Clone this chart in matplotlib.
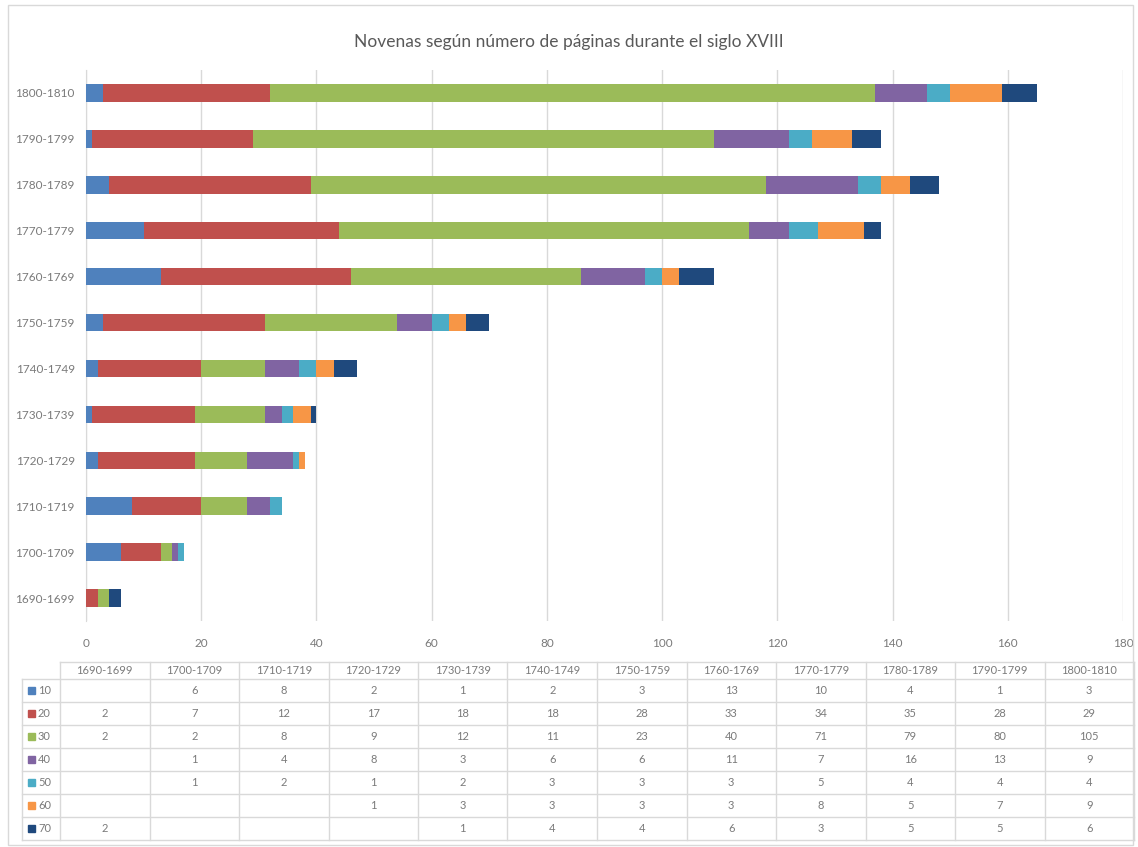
import matplotlib.pyplot as plt
from matplotlib.patches import Rectangle
import numpy as np

plt.rcParams['font.family'] = ['Lato', 'DejaVu Sans']

# décadas y número de novenas por tamaño (páginas)
decadas = ['1690-1699', '1700-1709', '1710-1719', '1720-1729', '1730-1739', '1740-1749',
           '1750-1759', '1760-1769', '1770-1779', '1780-1789', '1790-1799', '1800-1810']
paginas = ['10', '20', '30', '40', '50', '60', '70']

p10 = [0, 6, 8, 2, 1, 2, 3, 13, 10, 4, 1, 3]
p20 = [2, 7, 12, 17, 18, 18, 28, 33, 34, 35, 28, 29]
p30 = [2, 2, 8, 9, 12, 11, 23, 40, 71, 79, 80, 105]
p40 = [0, 1, 4, 8, 3, 6, 6, 11, 7, 16, 13, 9]
p50 = [0, 1, 2, 1, 2, 3, 3, 3, 5, 4, 4, 4]
p60 = [0, 0, 0, 1, 3, 3, 3, 3, 8, 5, 7, 9]
p70 = [2, 0, 0, 0, 1, 4, 4, 6, 3, 5, 5, 6]

series = [p10, p20, p30, p40, p50, p60, p70]
colores = ['#4F81BD', '#C0504D', '#9BBB59', '#8064A2', '#4BACC6', '#F79646', '#1F497D']

gris = '#595959'
gris_claro = '#7A7A7A'
linea = '#D9D9D9'

fig = plt.figure(figsize=(11.38, 8.47), dpi=100)
W, H = 1138, 847

def fx(px):
    return px / W

def fy(py):
    return 1 - py / H

# borde del gráfico
fig.patches.append(Rectangle((fx(8), fy(845)), fx(1125), 840 / H, transform=fig.transFigure,
                             fill=False, edgecolor=linea, linewidth=1))

fig.text(0.5, fy(42), 'Novenas según número de páginas durante el siglo XVIII',
         ha='center', va='center', fontsize=12.5, color=gris)

ax = fig.add_axes([fx(86), fy(621), fx(1123 - 86), (621 - 70) / H])
y = np.arange(len(decadas))
izq = np.zeros(len(decadas))
for vals, col in zip(series, colores):
    ax.barh(y, vals, left=izq, height=0.38, color=col, zorder=3)
    izq += np.array(vals)

ax.set_xlim(0, 180)
ax.set_ylim(-0.5, len(decadas) - 0.5)
ax.set_xticks(range(0, 181, 20))
ax.set_yticks(y)
ax.set_yticklabels(decadas)
ax.grid(axis='x', color=linea, linewidth=1, zorder=0)
for s in ['top', 'right', 'bottom']:
    ax.spines[s].set_visible(False)
ax.spines['left'].set_color(linea)
ax.tick_params(axis='both', length=0, labelsize=8.5, colors=gris_claro)
ax.tick_params(axis='x', pad=12)
ax.tick_params(axis='y', pad=8)

# tabla de datos bajo el gráfico
x0, x_ini, x_fin = 22, 60, 1134
ancho = (x_fin - x_ini) / len(decadas)
y_cab, y_top = 662, 679
alto = 23

def hline(py, xa, xb):
    fig.add_artist(plt.Line2D([fx(xa), fx(xb)], [fy(py), fy(py)], color=linea, linewidth=1))

def vline(px, ya, yb):
    fig.add_artist(plt.Line2D([fx(px), fx(px)], [fy(ya), fy(yb)], color=linea, linewidth=1))

y_bot = y_top + alto * len(paginas)
hline(y_cab, x_ini, x_fin)
for i in range(len(paginas) + 1):
    hline(y_top + i * alto, x0, x_fin)
vline(x0, y_top, y_bot)
for j in range(len(decadas) + 1):
    vline(x_ini + j * ancho, y_cab, y_bot)

for j, d in enumerate(decadas):
    fig.text(fx(x_ini + (j + 0.5) * ancho), fy((y_cab + y_top) / 2), d,
             ha='center', va='center', fontsize=8, color=gris_claro)

for i, (nombre, vals, col) in enumerate(zip(paginas, series, colores)):
    yc = y_top + (i + 0.5) * alto
    fig.patches.append(Rectangle((fx(28), fy(yc + 3.5)), fx(7), 7 / H,
                                 transform=fig.transFigure, color=col))
    fig.text(fx(38), fy(yc), nombre, ha='left', va='center', fontsize=8, color=gris_claro)
    for j, v in enumerate(vals):
        if v:
            fig.text(fx(x_ini + (j + 0.5) * ancho), fy(yc), str(v),
                     ha='center', va='center', fontsize=8, color=gris_claro)

fig.savefig('out.png', dpi=100, facecolor='white')
